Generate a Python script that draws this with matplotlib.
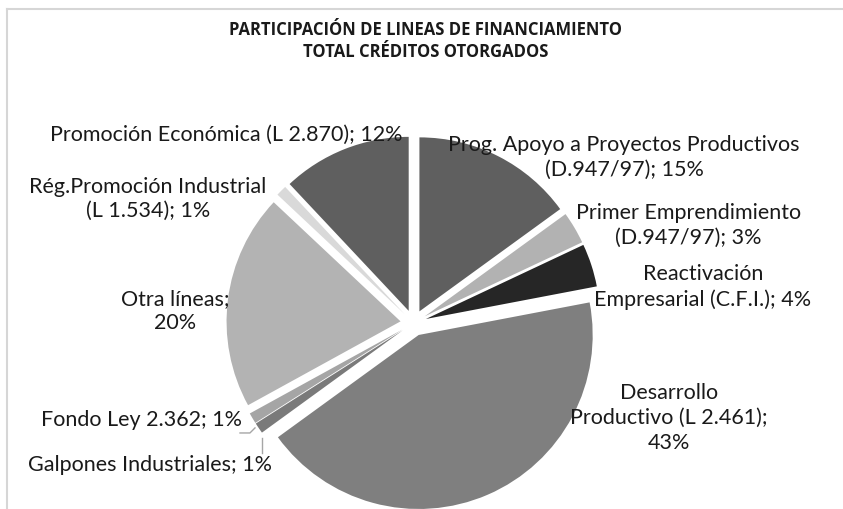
import matplotlib.pyplot as plt
from matplotlib.lines import Line2D

plt.rcParams["font.family"] = ["Lato", "DejaVu Sans"]

# slices, clockwise from 12 o'clock
labels = [
    "Prog. Apoyo a Proyectos Productivos\n(D.947/97)",
    "Primer Emprendimiento\n(D.947/97)",
    "Reactivación\nEmpresarial (C.F.I.)",
    "Desarrollo\nProductivo (L 2.461)",
    "Galpones Industriales",
    "Fondo Ley 2.362",
    "Otra líneas",
    "Rég.Promoción Industrial\n(L 1.534)",
    "Promoción Económica (L 2.870)",
]
shares = [15, 3, 4, 43, 1, 1, 20, 1, 12]
colors = ["#5f5f5f", "#b2b2b2", "#262626", "#7f7f7f", "#7a7a7a",
          "#a5a5a5", "#b3b3b3", "#d9d9d9", "#5f5f5f"]

# how each label text is broken ("; " or newline before the percent)
label_text = [
    "Prog. Apoyo a Proyectos Productivos\n(D.947/97); {}%",
    "Primer Emprendimiento\n(D.947/97); {}%",
    "Reactivación\nEmpresarial (C.F.I.); {}%",
    "Desarrollo\nProductivo (L 2.461);\n{}%",
    "Galpones Industriales; {}%",
    "Fondo Ley 2.362; {}%",
    "Otra líneas;\n{}%",
    "Rég.Promoción Industrial\n(L 1.534); {}%",
    "Promoción Económica (L 2.870); {}%",
]
# label centres in pie-radius units (layout only)
label_pos = [(1.21, 0.954), (1.578, 0.563), (1.664, 0.207), (1.468, -0.546),
             (-1.514, -0.816), (-1.566, -0.557), (-1.371, 0.069),
             (-1.526, 0.713), (-1.078, 1.080)]

W, H = 843, 509
R = 174.0           # pie radius in px
cx, cy = 413.5, 323  # pie centre in px (from top)

fig = plt.figure(figsize=(W / 100, H / 100), dpi=100)
ax = fig.add_axes([0, 0, 1, 1])

ax.pie(shares, colors=colors, startangle=90, counterclock=False,
       explode=[0.075] * len(shares), radius=1,
       wedgeprops=dict(linewidth=0))
# pie() resets the limits, so set them afterwards
ax.set_xlim(-cx / R, (W - cx) / R)
ax.set_ylim(-(H - cy) / R, cy / R)
ax.set_aspect("equal")
ax.axis("off")

for txt, val, (x, y) in zip(label_text, shares, label_pos):
    ax.text(x, y, txt.format(val), ha="center", va="center",
            fontsize=15.5, color="#1a1a1a", linespacing=1.3)

# leader lines for the two small slices
ax.plot([-0.997, -0.940, -0.911], [-0.632, -0.632, -0.603],
        color="#a6a6a6", lw=1)
ax.plot([-0.871, -0.871], [-0.661, -0.747], color="#a6a6a6", lw=1)

fig.text(0.505, 0.919,
         "PARTICIPACIÓN DE LINEAS DE FINANCIAMIENTO\nTOTAL CRÉDITOS OTORGADOS",
         ha="center", va="center", fontsize=12, fontweight="bold",
         family=["Open Sans", "DejaVu Sans"],
         color="#1a1a1a", linespacing=1.3)

# chart-area frame: only its top and left edges fall inside the crop
fx, fy = 7.0 / W, 1 - 9.0 / H
fig.add_artist(Line2D([fx, 1.0], [fy, fy], transform=fig.transFigure,
                      color="#d6d6d6", lw=1.5))
fig.add_artist(Line2D([fx, fx], [0.0, fy], transform=fig.transFigure,
                      color="#d6d6d6", lw=1.5))

fig.savefig("out.png", dpi=100)
